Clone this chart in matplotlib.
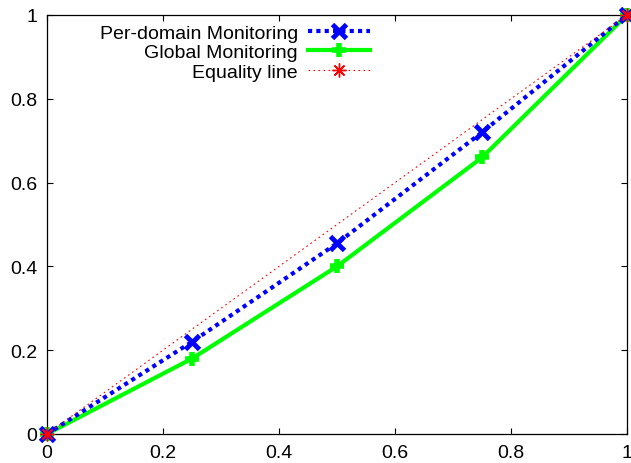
import matplotlib
matplotlib.use('Agg')
import matplotlib.pyplot as plt

plt.rcParams['font.family'] = ['Liberation Sans', 'DejaVu Sans']

x = [0, 0.25, 0.5, 0.75, 1]
per_domain = [0, 0.22, 0.455, 0.72, 1]
global_mon = [0, 0.18, 0.40, 0.66, 1]
eq_x = [0, 1]
eq_y = [0, 1]
ticks = [0, 0.2, 0.4, 0.6, 0.8, 1]
tick_labels = ['0', '0.2', '0.4', '0.6', '0.8', '1']

fig = plt.figure(figsize=(6.31, 4.64), dpi=100)
ax = fig.add_axes([47 / 631, 1 - 435 / 464, 580 / 631, 419 / 464])

ax.plot(x, per_domain, color='#0000ff', lw=3, dashes=(1, 1),
        marker='x', ms=10, mew=3.5, label='Per-domain Monitoring',
        clip_on=False, zorder=3)
ax.plot(x, global_mon, color='#00ff00', lw=3,
        marker='+', ms=10, mew=4, label='Global Monitoring',
        clip_on=False, zorder=2)
ax.plot(eq_x, eq_y, color='#ff0000', lw=0.8, dashes=(1.5, 3),
        marker=(8, 2, 0), ms=10, mew=1, label='Equality line',
        clip_on=False, zorder=4)

ax.set_xlim(0, 1)
ax.set_ylim(0, 1)
ax.set_xticks(ticks)
ax.set_xticklabels(tick_labels)
ax.set_yticks(ticks)
ax.set_yticklabels(tick_labels)
ax.tick_params(direction='in', length=4.5, width=0.8, labelsize=14,
               top=True, right=True, pad=7)
for s in ax.spines.values():
    s.set_linewidth(0.9)
    s.set_zorder(1)

ax.legend(loc='upper right', bbox_to_anchor=(0.57, 0.997), frameon=False,
          markerfirst=False, fontsize=14, handlelength=3.2,
          handletextpad=0.5, labelspacing=0.1, borderaxespad=0)

fig.savefig('out.png', dpi=100)
